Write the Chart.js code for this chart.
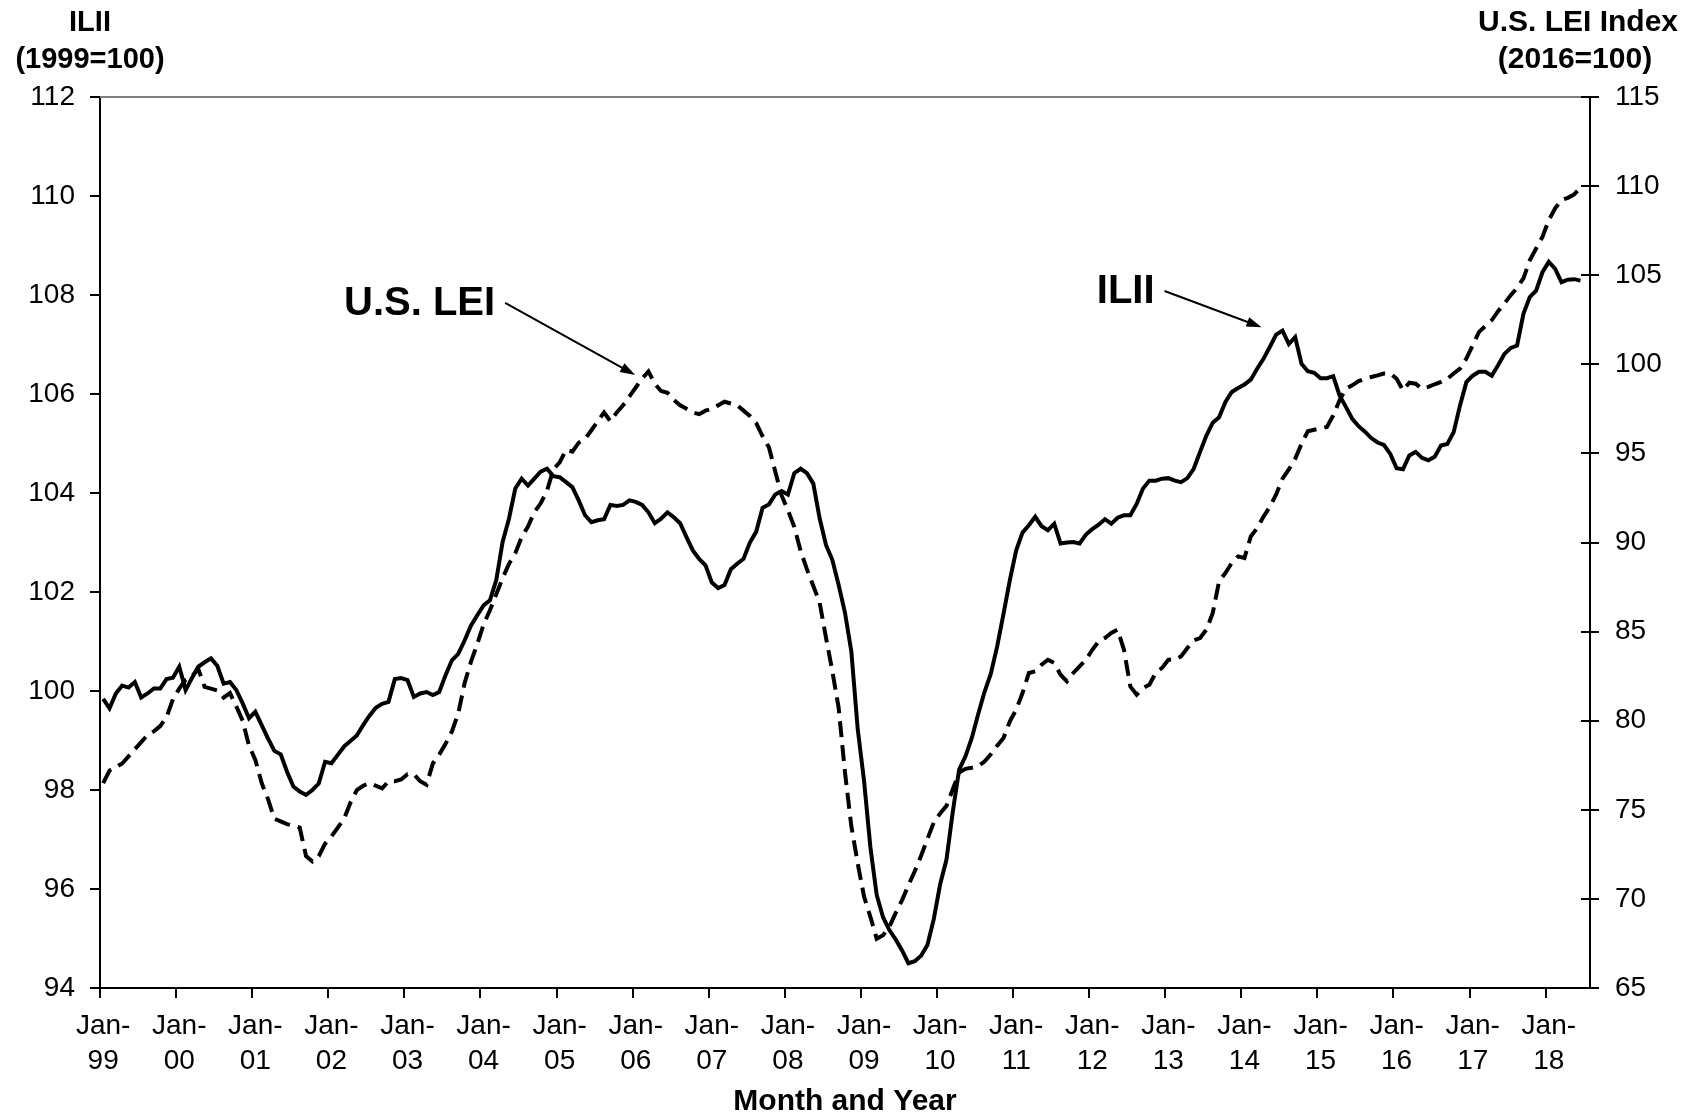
<!DOCTYPE html>
<html>
<head>
<meta charset="utf-8">
<title>ILII vs U.S. LEI</title>
<script src="https://cdn.jsdelivr.net/npm/chart.js@4.4.0/dist/chart.umd.min.js"></script>
<style>
  html, body { margin: 0; padding: 0; background: #fff; }
  canvas { display: block; }
</style>
</head>
<body>
<canvas id="chart" width="1695" height="1118"></canvas>
<script>
// Month categories, Jan-99 .. Jul-18
const monthNames = ['Jan', 'Feb', 'Mar', 'Apr', 'May', 'Jun', 'Jul', 'Aug', 'Sep', 'Oct', 'Nov', 'Dec'];
const startYear = 1999;
const monthCount = 235;
const months = [];
for (let i = 0; i < monthCount; i++) {
    const yr = startYear + Math.floor(i / 12);
    months.push(monthNames[i % 12] + '-' + String(yr).slice(2));
}

// ILII (1999=100), left axis
const iliiValues = [
    99.84, 99.65, 99.95, 100.11, 100.07, 100.18, 99.87, 99.95, 100.05, 100.05, 100.24, 100.27,
    100.49, 100.02, 100.26, 100.49, 100.58, 100.66, 100.51, 100.15, 100.18, 100.02, 99.75, 99.45,
    99.58, 99.31, 99.04, 98.79, 98.72, 98.37, 98.07, 97.97, 97.90, 98.00, 98.13, 98.57,
    98.54, 98.71, 98.88, 98.99, 99.10, 99.31, 99.50, 99.66, 99.74, 99.78, 100.24, 100.26,
    100.22, 99.88, 99.95, 99.98, 99.92, 99.98, 100.32, 100.62, 100.75, 101.02, 101.32, 101.53,
    101.73, 101.83, 102.24, 103.01, 103.48, 104.09, 104.29, 104.15, 104.29, 104.43, 104.49, 104.34,
    104.32, 104.22, 104.12, 103.85, 103.55, 103.41, 103.45, 103.47, 103.76, 103.74, 103.76, 103.85,
    103.82, 103.76, 103.61, 103.39, 103.48, 103.61, 103.51, 103.39, 103.11, 102.84, 102.67, 102.54,
    102.19, 102.08, 102.14, 102.46, 102.57, 102.67, 103.00, 103.22, 103.70, 103.77, 103.97, 104.04,
    103.97, 104.40, 104.49, 104.40, 104.19, 103.49, 102.95, 102.65, 102.14, 101.58, 100.80, 99.24,
    98.19, 96.85, 95.88, 95.43, 95.17, 94.98, 94.76, 94.50, 94.54, 94.65, 94.87, 95.39,
    96.09, 96.59, 97.56, 98.41, 98.68, 99.05, 99.53, 99.98, 100.35, 100.90, 101.56, 102.24,
    102.84, 103.20, 103.35, 103.52, 103.33, 103.25, 103.38, 102.98, 103.00, 103.01, 102.98, 103.16,
    103.27, 103.36, 103.47, 103.38, 103.50, 103.55, 103.55, 103.78, 104.09, 104.25, 104.25, 104.29,
    104.30, 104.25, 104.22, 104.30, 104.49, 104.83, 105.16, 105.42, 105.53, 105.84, 106.04, 106.12,
    106.19, 106.29, 106.51, 106.71, 106.95, 107.20, 107.28, 107.01, 107.15, 106.61, 106.46, 106.43,
    106.32, 106.32, 106.36, 105.97, 105.74, 105.50, 105.35, 105.24, 105.11, 105.02, 104.97, 104.79,
    104.50, 104.48, 104.76, 104.83, 104.71, 104.66, 104.73, 104.96, 104.99, 105.23, 105.77, 106.24,
    106.37, 106.45, 106.45, 106.37, 106.58, 106.81, 106.93, 106.98, 107.62, 107.96, 108.09, 108.46,
    108.67, 108.53, 108.26, 108.31, 108.32, 108.29
];

// U.S. LEI (2016=100), right axis
const leiValues = [
    76.5, 77.2, 77.4, 77.6, 78.0, 78.4, 78.8, 79.2, 79.4, 79.7, 80.2, 81.2,
    81.8, 82.3, 82.5, 82.9, 81.9, 81.8, 81.7, 81.3, 81.55, 80.8, 80.0, 78.6,
    77.8, 76.5, 75.6, 74.5, 74.35, 74.2, 74.1, 74.0, 72.4, 72.1, 72.4, 73.1,
    73.5, 74.0, 74.5, 75.4, 76.1, 76.35, 76.5, 76.35, 76.2, 76.6, 76.6, 76.7,
    77.0, 77.0, 76.6, 76.4, 77.6, 78.1, 78.7, 79.4, 80.4, 82.1, 83.3, 84.3,
    85.4, 86.2, 87.1, 88.0, 88.8, 89.4, 90.3, 90.9, 91.7, 92.2, 92.9, 94.1,
    94.5, 95.2, 95.1, 95.6, 95.8, 96.3, 96.8, 97.3, 96.8, 97.3, 97.7, 98.2,
    98.7, 99.2, 99.6, 98.9, 98.5, 98.4, 98.0, 97.7, 97.5, 97.3, 97.2, 97.4,
    97.5, 97.7, 97.9, 97.8, 97.7, 97.4, 97.1, 96.7, 95.96, 95.34, 93.99, 92.64,
    91.81, 90.88, 89.53, 88.49, 87.56, 86.63, 84.66, 82.79, 80.72, 77.09, 74.08, 72.00,
    70.14, 69.00, 67.76, 67.96, 68.44, 69.21, 69.93, 70.76, 71.55, 72.42, 73.36, 74.29,
    74.80, 75.22, 76.15, 77.09, 77.30, 77.36, 77.44, 77.71, 78.12, 78.6, 79.03, 79.96,
    80.62, 81.55, 82.68, 82.77, 83.14, 83.42, 83.24, 82.58, 82.21, 82.68, 83.05, 83.42,
    83.98, 84.45, 84.64, 84.92, 85.11, 83.98, 81.92, 81.46, 81.83, 82.02, 82.68, 82.96,
    83.42, 83.42, 83.61, 84.08, 84.51, 84.64, 85.11, 86.04, 87.82, 88.29, 88.85, 89.22,
    89.13, 90.34, 90.81, 91.45, 92.0, 92.7, 93.58, 94.10, 94.70, 95.54, 96.24, 96.33,
    96.39, 96.48, 97.13, 97.98, 98.63, 98.82, 99.06, 99.19, 99.29, 99.38, 99.48, 99.49,
    99.19, 98.54, 98.97, 98.91, 98.63, 98.73, 98.88, 99.01, 99.19, 99.48, 99.76, 100.32,
    101.07, 101.82, 102.15, 102.47, 102.98, 103.41, 103.88, 104.29, 104.82, 105.84, 106.50, 107.15,
    108.09, 108.75, 109.21, 109.34, 109.53, 109.91
];

// axis ranges
const iliiAxis = { min: 94, max: 112, step: 2 };
const leiAxis = { min: 65, max: 115, step: 5 };

// callouts: [category index, value] for arrow start and arrow tip
const callouts = [
    { text: 'U.S. LEI', axis: 'y1', from: [63.4, 103.45], to: [83.9, 99.4] },
    { text: 'ILII', axis: 'y', from: [167.4, 108.08], to: [182.7, 107.35] }
];

const fontFamily = '"Liberation Sans", Arial, sans-serif';
Chart.defaults.font.family = fontFamily;
Chart.defaults.color = '#000';

const isJan = (i) => months[i] !== undefined && months[i].startsWith('Jan');

// extra drawing: titles, top border, inner right ticks, callouts
const decorPlugin = {
    id: 'decor',
    afterDraw(chart) {
        const ctx = chart.ctx;
        const area = chart.chartArea;
        const xs = chart.scales.x;

        ctx.save();
        // plot area top border
        ctx.strokeStyle = '#7f7f7f';
        ctx.lineWidth = 2;
        ctx.beginPath();
        ctx.moveTo(area.left, area.top);
        ctx.lineTo(area.right, area.top);
        ctx.stroke();

        // right axis ticks also go inside the plot
        const ry = chart.scales.y1;
        ctx.strokeStyle = '#000';
        ctx.lineWidth = 2;
        ry.ticks.forEach(t => {
            const py = Math.round(ry.getPixelForValue(t.value));
            ctx.beginPath();
            ctx.moveTo(area.right - 9, py);
            ctx.lineTo(area.right, py);
            ctx.stroke();
        });

        // axis titles
        ctx.fillStyle = '#000';
        ctx.textAlign = 'center';
        ctx.textBaseline = 'middle';
        ctx.font = 'bold 29px ' + fontFamily;
        ctx.fillText('ILII', 90, 23);
        ctx.fillText('(1999=100)', 90, 60);
        ctx.font = 'bold 30px ' + fontFamily;
        ctx.fillText('U.S. LEI Index', 1578, 23);
        ctx.fillText('(2016=100)', 1575, 60);
        ctx.fillText('Month and Year', (area.left + area.right) / 2, 1102);

        // callouts with arrows
        callouts.forEach(c => {
            const ys = chart.scales[c.axis];
            const x0 = xs.getPixelForValue(c.from[0]);
            const y0 = ys.getPixelForValue(c.from[1]);
            const x1 = xs.getPixelForValue(c.to[0]);
            const y1 = ys.getPixelForValue(c.to[1]);
            const ang = Math.atan2(y1 - y0, x1 - x0);
            const head = 15;
            ctx.strokeStyle = '#000';
            ctx.lineWidth = 2;
            ctx.beginPath();
            ctx.moveTo(x0, y0);
            ctx.lineTo(x1 - Math.cos(ang) * head * 0.8, y1 - Math.sin(ang) * head * 0.8);
            ctx.stroke();
            ctx.beginPath();
            ctx.moveTo(x1, y1);
            ctx.lineTo(x1 - head * Math.cos(ang) + 5 * Math.sin(ang), y1 - head * Math.sin(ang) - 5 * Math.cos(ang));
            ctx.lineTo(x1 - head * Math.cos(ang) - 5 * Math.sin(ang), y1 - head * Math.sin(ang) + 5 * Math.cos(ang));
            ctx.closePath();
            ctx.fill();

            ctx.font = 'bold 40px ' + fontFamily;
            ctx.textAlign = 'right';
            ctx.textBaseline = 'middle';
            ctx.fillText(c.text, x0 - 10, y0 + 1);
        });
        ctx.restore();
    }
};

const chart = new Chart(document.getElementById('chart').getContext('2d'), {
    type: 'line',
    data: {
        labels: months,
        datasets: [{
            label: 'ILII',
            data: iliiValues,
            yAxisID: 'y',
            borderColor: '#000',
            borderWidth: 4,
            pointRadius: 0,
            tension: 0,
            fill: false
        }, {
            label: 'U.S. LEI',
            data: leiValues,
            yAxisID: 'y1',
            borderColor: '#000',
            borderWidth: 4,
            borderDash: [16, 8],
            pointRadius: 0,
            tension: 0,
            fill: false
        }]
    },
    options: {
        responsive: false,
        animation: false,
        layout: { padding: { top: 97, left: 0, right: 0, bottom: 0 } },
        plugins: {
            legend: { display: false },
            tooltip: { enabled: false }
        },
        scales: {
            x: {
                type: 'category',
                offset: true,
                grid: {
                    offset: true,
                    drawOnChartArea: false,
                    drawTicks: true,
                    tickLength: 10,
                    color: ctx => isJan(ctx.index) ? '#000' : 'rgba(0,0,0,0)',
                    lineWidth: ctx => isJan(ctx.index) ? 2 : 0
                },
                border: { display: true, color: '#000', width: 2 },
                ticks: {
                    autoSkip: false,
                    maxRotation: 0,
                    minRotation: 0,
                    padding: 11,
                    color: '#000',
                    font: { size: 28, lineHeight: 1.25 },
                    callback: function (value) {
                        const lab = this.getLabelForValue(value);
                        return lab.startsWith('Jan') ? ['Jan-', lab.slice(4)] : '';
                    }
                },
                afterFit: s => { s.height = 130; }
            },
            y: {
                position: 'left',
                min: iliiAxis.min,
                max: iliiAxis.max,
                ticks: { stepSize: iliiAxis.step, padding: 15, color: '#000', font: { size: 28 } },
                grid: { drawOnChartArea: false, tickLength: 10, color: '#000', lineWidth: 2 },
                border: { display: true, color: '#000', width: 2 },
                afterFit: s => { s.width = 100; }
            },
            y1: {
                position: 'right',
                min: leiAxis.min,
                max: leiAxis.max,
                ticks: { stepSize: leiAxis.step, padding: 16, color: '#000', font: { size: 28 } },
                grid: { drawOnChartArea: false, tickLength: 9, color: '#000', lineWidth: 2 },
                border: { display: true, color: '#000', width: 2 },
                afterFit: s => { s.width = 105; }
            }
        }
    },
    plugins: [decorPlugin]
});
</script>
</body>
</html>
